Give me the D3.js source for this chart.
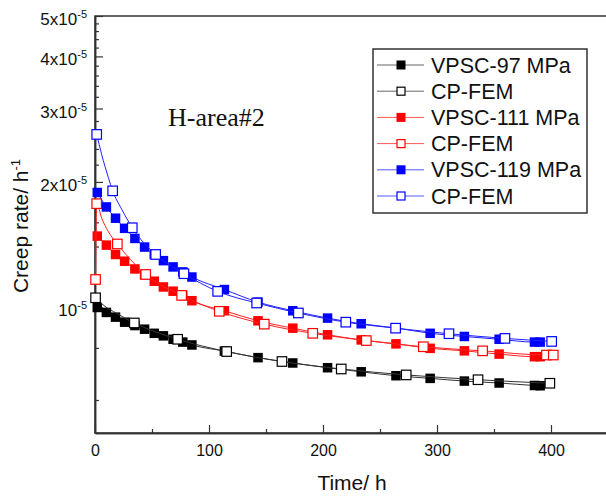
<!DOCTYPE html>
<html>
<head>
<meta charset="utf-8">
<script src="https://cdn.jsdelivr.net/npm/d3@7/dist/d3.min.js"></script>
<style>
  html, body { margin: 0; padding: 0; background: #fff; }
  svg { display: block; }
  text { font-family: "Liberation Sans", Arial, sans-serif; fill: #111; }
</style>
</head>
<body>
<svg id="chart" width="606" height="499"></svg>
<script>
// Creep rate (units of 1e-5 per hour) against time (h)
const vpscTime = [2, 10, 18, 26, 35, 43.5, 52, 60, 68.5, 77, 85, 113.5, 143, 173.5, 204, 233.5, 264, 294, 324, 354.5, 385.5, 390.5];
const vpsc97  = [1.0, 0.973, 0.948, 0.922, 0.905, 0.887, 0.867, 0.855, 0.839, 0.826, 0.813, 0.786, 0.758, 0.736, 0.717, 0.701, 0.686, 0.676, 0.666, 0.659, 0.650, 0.649];
const vpsc111 = [1.483, 1.411, 1.34, 1.291, 1.237, 1.198, 1.156, 1.12, 1.094, 1.068, 1.038, 0.982, 0.929, 0.892, 0.860, 0.836, 0.818, 0.798, 0.787, 0.773, 0.762, 0.762];
const vpsc119 = [1.887, 1.742, 1.637, 1.548, 1.464, 1.396, 1.34, 1.295, 1.251, 1.217, 1.183, 1.104, 1.03, 0.982, 0.943, 0.914, 0.893, 0.867, 0.852, 0.839, 0.826, 0.826];

// CP-FEM symbols
const fem97T  = [0.5, 34.5, 72.5, 115.5, 164, 216, 273, 336, 399];
const fem97V  = [1.055, 0.918, 0.839, 0.784, 0.742, 0.712, 0.689, 0.671, 0.658];
const fem111T = [0.5, 1.5, 19.6, 44.5, 76, 109, 148.5, 191, 238, 288, 340, 396, 402];
const fem111V = [1.167, 1.774, 1.42, 1.2, 1.069, 0.979, 0.912, 0.867, 0.833, 0.805, 0.787, 0.769, 0.769];
const fem119T = [1.5, 15.5, 32.7, 53.2, 78, 107.6, 141.8, 178.4, 220, 263.7, 310.5, 359.6, 400.6];
const fem119V = [2.6, 1.904, 1.553, 1.34, 1.205, 1.093, 1.025, 0.970, 0.922, 0.892, 0.865, 0.843, 0.829];

// Additional samples along the early part of the CP-FEM curves
const fem97ExtraT  = [8, 19];
const fem97ExtraV  = [1.01, 0.968];
const fem111ExtraT = [5.8, 11.7, 35];
const fem111ExtraV = [1.64, 1.52, 1.27];
const fem119ExtraT = [5.8, 11.7, 23.4];
const fem119ExtraV = [2.33, 2.05, 1.72];

const seriesNames = ["VPSC-97 MPa", "CP-FEM", "VPSC-111 MPa", "CP-FEM", "VPSC-119 MPa", "CP-FEM"];
const seriesColors = ["#000000", "#000000", "#ff0000", "#ff0000", "#0000ff", "#0000ff"];
const lineColors = ["#333333", "#333333", "#ff2020", "#ff2020", "#2020ff", "#2020ff"];

const xMajorTicks = [0, 100, 200, 300, 400];
const xMinorTicks = [50, 150, 250, 350];
const yMajorTicks = [1, 2, 3, 4, 5];
const yMajorLabels = [["10", "-5"], ["2x10", "-5"], ["3x10", "-5"], ["4x10", "-5"], ["5x10", "-5"]];
const yMinorTicks = [0.6, 0.8, 1.2, 1.4, 1.6, 1.8, 2.2, 2.4, 2.6, 2.8, 3.2, 3.4, 3.6, 3.8, 4.2, 4.4, 4.6, 4.8];

const svg = d3.select("#chart");
const plotLeft = 95, plotRight = 608, plotTop = 16, plotBottom = 433;

const x = d3.scaleLinear().domain([0, 450]).range([plotLeft, plotRight]);
const y = d3.scaleLog().domain([0.5, 5]).range([plotBottom, plotTop]);

const zip = (ts, vs) => ts.map((t, i) => ({ t, v: vs[i] }));
const merge = (a, b) => a.concat(b).sort((p, q) => p.t - q.t);

const series = [
  { pts: zip(vpscTime, vpsc97),  line: zip(vpscTime, vpsc97),  filled: true },
  { pts: zip(fem97T, fem97V),    line: merge(zip(fem97T, fem97V), zip(fem97ExtraT, fem97ExtraV)), filled: false },
  { pts: zip(vpscTime, vpsc111), line: zip(vpscTime, vpsc111), filled: true },
  { pts: zip(fem111T, fem111V),  line: merge(zip(fem111T, fem111V), zip(fem111ExtraT, fem111ExtraV)), filled: false },
  { pts: zip(vpscTime, vpsc119), line: zip(vpscTime, vpsc119), filled: true },
  { pts: zip(fem119T, fem119V),  line: merge(zip(fem119T, fem119V), zip(fem119ExtraT, fem119ExtraV)), filled: false }
];

// frame
svg.append("rect")
  .attr("x", plotLeft).attr("y", plotTop)
  .attr("width", plotRight - plotLeft).attr("height", plotBottom - plotTop)
  .attr("fill", "none").attr("stroke", "#333").attr("stroke-width", 1.5);

// x axis: inward ticks
const gx = svg.append("g").attr("transform", `translate(0,${plotBottom})`);
gx.call(d3.axisBottom(x).tickValues(xMajorTicks).tickSize(-8).tickSizeOuter(0).tickPadding(12).tickFormat(d3.format("d")));
gx.append("g").call(d3.axisBottom(x).tickValues(xMinorTicks).tickSize(-4).tickSizeOuter(0).tickFormat(""));
gx.selectAll("text").style("font-size", "16px").style("font-family", "'Liberation Sans', Arial, sans-serif").attr("fill", "#111");
gx.selectAll("path.domain").attr("stroke", "#333").attr("stroke-width", 1.5);
gx.selectAll(".tick line").attr("stroke", "#333").attr("stroke-width", 1.2);

// y axis: inward ticks
const gy = svg.append("g").attr("transform", `translate(${plotLeft},0)`);
gy.call(d3.axisLeft(y).tickValues(yMajorTicks).tickSize(-8).tickSizeOuter(0).tickFormat(""));
gy.append("g").call(d3.axisLeft(y).tickValues(yMinorTicks).tickSize(-4).tickSizeOuter(0).tickFormat(""));
gy.selectAll("path.domain").attr("stroke", "#333").attr("stroke-width", 1.5);
gy.selectAll(".tick line").attr("stroke", "#333").attr("stroke-width", 1.2);

// y tick labels with superscript exponent
yMajorTicks.forEach((v, i) => {
  const t = svg.append("text")
    .attr("x", 87).attr("y", y(v) + 9)
    .attr("text-anchor", "end")
    .style("font-size", "17px");
  t.append("tspan").text(yMajorLabels[i][0]);
  t.append("tspan").attr("dy", -7).style("font-size", "11px").text(yMajorLabels[i][1]);
});

// axis titles
svg.append("text")
  .attr("x", 352).attr("y", 490)
  .attr("text-anchor", "middle")
  .style("font-size", "21px")
  .text("Time/ h");

const yt = svg.append("text")
  .attr("transform", "translate(28,226) rotate(-90)")
  .attr("text-anchor", "middle")
  .style("font-size", "21px");
yt.append("tspan").text("Creep rate/ h");
yt.append("tspan").attr("dy", -8).style("font-size", "13px").text("-1");

// annotation
svg.append("text")
  .attr("x", 168).attr("y", 126)
  .style("font-family", "'Liberation Serif', 'Times New Roman', serif")
  .style("font-size", "26px")
  .text("H-area#2");

// data
const plot = svg.append("g");
const line = d3.line().x(d => x(d.t)).y(d => y(d.v)).curve(d3.curveMonotoneX);
const ms = 9.5;

series.forEach((s, i) => {
  const g = plot.append("g");
  g.append("path")
    .datum(s.line)
    .attr("d", line)
    .attr("fill", "none")
    .attr("stroke", lineColors[i])
    .attr("stroke-width", 1);
  g.selectAll("rect")
    .data(s.pts)
    .join("rect")
    .attr("x", d => x(d.t) - ms / 2)
    .attr("y", d => y(d.v) - ms / 2)
    .attr("width", ms).attr("height", ms)
    .attr("fill", s.filled ? seriesColors[i] : "#fff")
    .attr("stroke", s.filled ? "none" : seriesColors[i])
    .attr("stroke-width", s.filled ? 0 : 1.2);
});

// legend
const lg = svg.append("g");
lg.append("rect")
  .attr("x", 373).attr("y", 49).attr("width", 214).attr("height", 164)
  .attr("fill", "#fff").attr("stroke", "#333").attr("stroke-width", 1.5);
const rowY = d3.scaleLinear().domain([0, 5]).range([65, 196]);
seriesNames.forEach((name, i) => {
  const cy = rowY(i);
  lg.append("line")
    .attr("x1", 377).attr("x2", 424).attr("y1", cy).attr("y2", cy)
    .attr("stroke", lineColors[i]).attr("stroke-width", 1).attr("opacity", 0.75);
  const filled = i % 2 === 0;
  const m = filled ? 9 : 8;
  lg.append("rect")
    .attr("x", 401 - m / 2).attr("y", cy - m / 2).attr("width", m).attr("height", m)
    .attr("fill", filled ? seriesColors[i] : "#fff")
    .attr("stroke", filled ? "none" : seriesColors[i])
    .attr("stroke-width", 1.2);
  lg.append("text")
    .attr("x", 431).attr("y", cy + 7.5)
    .style("font-size", "21.5px")
    .text(name);
});
</script>
</body>
</html>
